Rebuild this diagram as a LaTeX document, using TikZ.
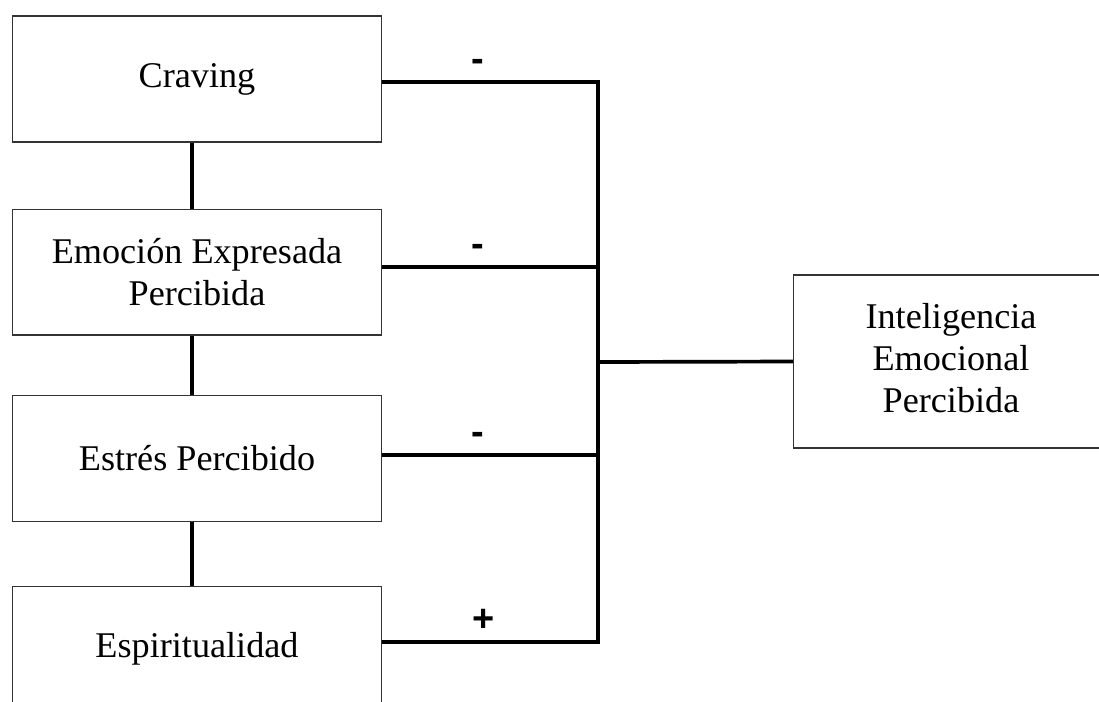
\documentclass[tikz,border=0pt]{standalone}
\usepackage{fontspec}
\setmainfont{Liberation Serif}
\newfontfamily\signfont{Liberation Sans}
\usepackage{tikz}
\usetikzlibrary{positioning}

\begin{document}
\begin{tikzpicture}[
  x=0.02cm, y=-0.02cm,
  every node/.style={font=\fontsize{20.6}{23.9}\selectfont},
  factor/.style={draw=black!80, line width=0.6pt, align=center,
                 minimum width=7.4cm, minimum height=2.52cm, inner sep=0pt},
  link/.style={line width=2.1pt},
  sign/.style={font=\signfont\bfseries\fontsize{21.6}{24}\selectfont,
               text height=12pt, text depth=0pt, inner sep=0pt}
]
\useasboundingbox (0,0) rectangle (1099,701);
\clip (0,0) rectangle (1099,701);

\node[factor] (crav) at (197,79) {Craving};
\node[factor, below=1.32cm of crav] (emo)
  {Emoción Expresada\\Percibida};
\node[factor, below=1.18cm of emo] (est) {Estrés Percibido};
\node[factor, below=1.28cm of est] (espi) {Espiritualidad};

% outcome box runs past the right edge of the page
\node[factor, anchor=west, minimum width=7cm, minimum height=3.46cm]
  (iep) at (793,361.5) {};
\node[align=center] (ieptext) at (951,358)
  {Inteligencia\\Emocional\\Percibida};

% joints on the bus
\coordinate (jcrav) at (598,82);
\coordinate (jemo)  at (598,267);
\coordinate (jiep)  at (598,362);
\coordinate (jest)  at (598,455);
\coordinate (jespi) at (598,642);

\draw[link] ([xshift=-0.1cm]crav.south) -- ([xshift=-0.1cm]emo.north);
\draw[link] ([xshift=-0.1cm]emo.south) -- ([xshift=-0.1cm]est.north);
\draw[link] ([xshift=-0.1cm]est.south) -- ([xshift=-0.1cm]espi.north);

\draw[link] (crav.east |- jcrav)
  -- node[sign, pos=0.44, yshift=0.42cm]{-} (jcrav);
\draw[link] (emo.east |- jemo)
  -- node[sign, pos=0.44, yshift=0.42cm]{-} (jemo);
\draw[link] (est.east |- jest)
  -- node[sign, pos=0.44, yshift=0.42cm]{-} (jest);
\draw[link] (espi.east |- jespi)
  -- node[sign, pos=0.47, yshift=0.42cm]{+} (jespi);

\draw[link, line cap=rect] (jcrav) -- (jespi);
\draw[link] (jiep) -- (iep.west);
\end{tikzpicture}
\end{document}
